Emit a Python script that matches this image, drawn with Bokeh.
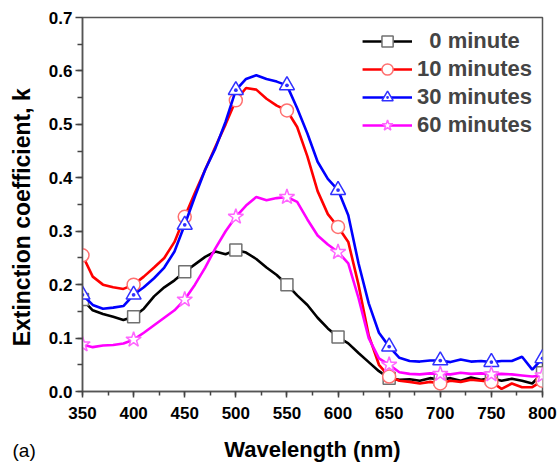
from bokeh.plotting import figure
from bokeh.models import Range1d, FixedTicker, Legend, LegendItem, NumeralTickFormatter, Title
from bokeh.embed import file_html
from bokeh.resources import INLINE

wavelength = list(range(350, 801, 10))

k_0min = [0.172, 0.152, 0.145, 0.140, 0.134, 0.140, 0.155, 0.178, 0.195, 0.208,
          0.224, 0.238, 0.252, 0.262, 0.257, 0.265, 0.260, 0.248, 0.232, 0.218,
          0.200, 0.180, 0.162, 0.138, 0.118, 0.102, 0.090, 0.072, 0.055, 0.038,
          0.025, 0.022, 0.023, 0.020, 0.025, 0.022, 0.025, 0.020, 0.026, 0.022,
          0.025, 0.020, 0.024, 0.020, 0.015, 0.035]

k_10min = [0.255, 0.215, 0.200, 0.195, 0.192, 0.200, 0.215, 0.232, 0.250, 0.280,
           0.327, 0.372, 0.415, 0.458, 0.500, 0.545, 0.568, 0.565, 0.548, 0.535,
           0.526, 0.495, 0.440, 0.375, 0.332, 0.308, 0.280, 0.200, 0.105, 0.050,
           0.028, 0.020, 0.018, 0.015, 0.018, 0.015, 0.020, 0.018, 0.022, 0.020,
           0.018, 0.005, 0.015, 0.008, 0.008, 0.020]

k_30min = [0.181, 0.162, 0.155, 0.157, 0.160, 0.181, 0.195, 0.212, 0.232, 0.262,
           0.312, 0.365, 0.415, 0.455, 0.505, 0.564, 0.585, 0.592, 0.585, 0.580,
           0.573, 0.530, 0.483, 0.430, 0.398, 0.377, 0.330, 0.240, 0.165, 0.110,
           0.084, 0.063, 0.057, 0.056, 0.058, 0.058, 0.055, 0.060, 0.056, 0.057,
           0.055, 0.057, 0.057, 0.065, 0.041, 0.062]

k_60min = [0.088, 0.083, 0.086, 0.087, 0.090, 0.097, 0.110, 0.124, 0.138, 0.152,
           0.172, 0.200, 0.232, 0.268, 0.300, 0.327, 0.348, 0.364, 0.358, 0.362,
           0.364, 0.355, 0.322, 0.292, 0.275, 0.261, 0.240, 0.175, 0.100, 0.062,
           0.050, 0.036, 0.033, 0.032, 0.034, 0.033, 0.032, 0.035, 0.033, 0.034,
           0.032, 0.033, 0.032, 0.030, 0.028, 0.030]

series_labels = ["\u20070 minute", "10 minutes", "30 minutes", "60 minutes"]
x_ticks = [350, 400, 450, 500, 550, 600, 650, 700, 750, 800]
y_ticks = [0.0, 0.1, 0.2, 0.3, 0.4, 0.5, 0.6, 0.7]

FONT = "Liberation Sans"

p = figure(width=559, height=464, output_backend="svg", toolbar_location=None,
           x_range=Range1d(350, 800), y_range=Range1d(0, 0.7),
           min_border_left=82, min_border_right=17, min_border_top=17, min_border_bottom=72)
p.background_fill_color = "white"
p.border_fill_color = "white"
p.grid.visible = False
p.outline_line_color = "#555555"
p.outline_line_width = 1.5

styles = [
    dict(color="black", marker="square", edge="#707070", size=12),
    dict(color="#ff0000", marker="circle", edge="#ff7070", size=13),
    dict(color="#0000ff", marker="triangle_dot", edge="#3030ff", size=15),
    dict(color="#ff00ff", marker="star", edge="#ff66ff", size=16),
]
data = [k_0min, k_10min, k_30min, k_60min]

items = []
for vals, st, lab in zip(data, styles, series_labels):
    r1 = p.line(wavelength, vals, line_color=st["color"], line_width=2.6)
    r2 = p.scatter(wavelength[::5], vals[::5], marker=st["marker"], size=st["size"],
                   fill_color="white", line_color=st["edge"], line_width=1.5)
    items.append(LegendItem(label=lab, renderers=[r1, r2]))

legend = Legend(items=items, location="top_right")
legend.border_line_color = None
legend.background_fill_alpha = 0
legend.label_text_font = FONT
legend.label_text_font_style = "bold"
legend.label_text_font_size = "22px"
legend.glyph_width = 50
legend.glyph_height = 28
legend.label_height = 28
legend.label_standoff = 5
legend.spacing = 0
legend.padding = 6
legend.margin = 10
p.add_layout(legend)

for ax in (p.xaxis[0], p.yaxis[0]):
    ax.axis_line_color = "#555555"
    ax.axis_line_width = 1.5
    ax.major_tick_line_color = "#444444"
    ax.minor_tick_line_color = "#444444"
    ax.major_tick_line_width = 1.5
    ax.minor_tick_line_width = 1.5
    ax.major_tick_in = 0
    ax.minor_tick_in = 0
    ax.major_label_text_font = FONT
    ax.major_label_text_font_style = "bold"
    ax.major_label_text_font_size = "17px"
    ax.major_label_text_color = "black"
    ax.axis_label_text_font = FONT
    ax.axis_label_text_font_style = "bold"
    ax.axis_label_text_color = "black"

p.xaxis.axis_label_text_font_size = "22px"
p.yaxis.axis_label_text_font_size = "23px"
p.xaxis.ticker = FixedTicker(ticks=x_ticks, minor_ticks=list(range(350, 801, 25)))
p.yaxis.ticker = FixedTicker(ticks=y_ticks, minor_ticks=[i * 0.05 for i in range(15)])
p.yaxis.formatter = NumeralTickFormatter(format="0.0")
p.xaxis.axis_label = "Wavelength (nm)"
# trailing figure spaces shift the visible title a little below the frame centre, as in the reference
p.yaxis.axis_label = "Extinction coefficient, k\u2007\u2007"
p.xaxis.major_tick_out = 6
p.xaxis.minor_tick_out = 4
p.yaxis.major_tick_out = 7
p.yaxis.minor_tick_out = 5
p.xaxis.major_label_standoff = 9
p.yaxis.major_label_standoff = 3
p.xaxis.axis_label_standoff = 15
p.yaxis.axis_label_standoff = 11

panel_tag = Title(text="(a)", align="left", vertical_align="top", offset=-70, standoff=-50,
                  text_font=FONT, text_font_style="normal", text_font_size="19px",
                  text_color="black")
p.add_layout(panel_tag, "below")

open("out.html", "w").write(file_html(p, INLINE))
